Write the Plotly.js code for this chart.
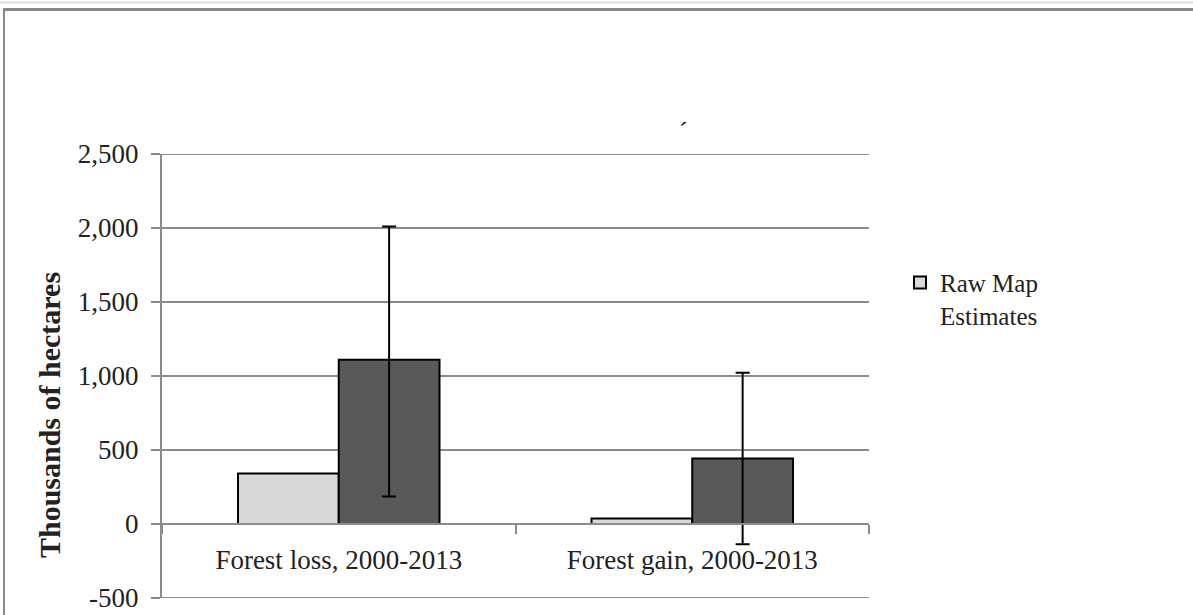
<!DOCTYPE html>
<html>
<head>
<meta charset="utf-8">
<script src="https://cdn.plot.ly/plotly-3.0.1.min.js"></script>
<style>
  html, body { margin: 0; padding: 0; background: #fff; }
  #chart { width: 1193px; height: 615px; }
</style>
</head>
<body>
<div id="chart"></div>
<script>
// Forest area change, thousands of hectares
const categories = ["Forest loss, 2000-2013", "Forest gain, 2000-2013"];
const rawMapEstimates = [342, 37];
const adjustedEstimates = [1110, 443];
const adjustedErrPlus = [900, 579];
const adjustedErrMinus = [925, 579];
const yTickValues = [-500, 0, 500, 1000, 1500, 2000, 2500];
const yTickLabels = ["-500", "0", "500", "1,000", "1,500", "2,000", "2,500"];
const yTitle = "Thousands of hectares";

const serif = "Liberation Serif, Times New Roman, serif";
const gridGray = "#8c8c8c";

const traces = [
  {
    type: "bar",
    name: "Raw Map<br>Estimates",
    x: categories,
    y: rawMapEstimates,
    marker: { color: "#d9d9d9", line: { color: "#000", width: 2 } },
    showlegend: true
  },
  {
    type: "bar",
    name: "Adjusted estimates",
    x: categories,
    y: adjustedEstimates,
    marker: { color: "#595959", line: { color: "#000", width: 2 } },
    error_y: {
      type: "data",
      symmetric: false,
      array: adjustedErrPlus,
      arrayminus: adjustedErrMinus,
      color: "#000",
      thickness: 2,
      width: 7
    },
    showlegend: false
  }
];

// helpers: pixel position -> paper fraction of the plot area
const plotL = 162, plotW = 707, plotB = 597.7, plotH = 443.4;
const px = v => (v - plotL) / plotW;
const py = v => (plotB - v) / plotH;

// outer gridlines at the range limits (Plotly skips gridlines on the plot edges)
const edgeGrid = [yTickValues[0], yTickValues[yTickValues.length - 1]].map(v => ({
  type: "line", xref: "paper", yref: "y",
  x0: 0, x1: 1, y0: v, y1: v,
  line: { color: gridGray, width: 2 }
}));

const layout = {
  width: 1193,
  height: 615,
  margin: { l: 162, r: 324, t: 154, b: 17, pad: 0 },
  paper_bgcolor: "#fff",
  plot_bgcolor: "#fff",
  barmode: "group",
  bargap: 0.43,
  bargroupgap: 0,
  font: { family: serif, color: "#222", size: 27 },
  xaxis: {
    type: "category",
    anchor: "free",
    position: 1 / 6,
    tickson: "boundaries",
    ticks: "outside",
    ticklen: 9,
    tickwidth: 2,
    tickcolor: gridGray,
    showline: true,
    linecolor: gridGray,
    linewidth: 2,
    showgrid: false,
    ticklabelstandoff: 12,
    tickfont: { family: serif, size: 27, color: "#222" },
    fixedrange: true
  },
  yaxis: {
    range: [-500, 2500],
    tickmode: "array",
    tickvals: yTickValues,
    ticktext: yTickLabels,
    ticks: "outside",
    ticklen: 9,
    tickwidth: 2,
    tickcolor: gridGray,
    showline: true,
    linecolor: gridGray,
    linewidth: 2,
    showgrid: true,
    gridcolor: gridGray,
    gridwidth: 2,
    zeroline: false,
    ticklabelstandoff: 7,
    tickfont: { family: serif, size: 27, color: "#222" },
    fixedrange: true
  },
  legend: {
    x: px(900),
    y: py(260),
    xanchor: "left",
    yanchor: "top",
    valign: "top",
    bgcolor: "rgba(0,0,0,0)",
    font: { family: serif, size: 25, color: "#222" },
    itemwidth: 30
  },
  annotations: [
    {
      // y-axis title, set lower than the plot centre
      xref: "paper", yref: "paper",
      x: px(49), y: py(415),
      xanchor: "center", yanchor: "middle",
      text: "<b>" + yTitle + "</b>",
      textangle: -90,
      showarrow: false,
      font: { family: serif, size: 30, color: "#222" }
    },
    {
      xref: "paper", yref: "paper",
      x: px(683), y: py(132),
      xanchor: "center", yanchor: "middle",
      text: "´",
      showarrow: false,
      font: { family: serif, size: 26, color: "#222" }
    }
  ],
  shapes: edgeGrid.concat([
    { type: "line", xref: "paper", yref: "paper",
      x0: px(0), x1: px(1193), y0: py(3), y1: py(3),
      line: { color: "#dcdcdc", width: 2 } },
    { type: "line", xref: "paper", yref: "paper",
      x0: px(3), x1: px(1193), y0: py(10), y1: py(10),
      line: { color: "#8a8a8a", width: 3 } },
    { type: "line", xref: "paper", yref: "paper",
      x0: px(4), x1: px(4), y0: py(10), y1: py(615),
      line: { color: "#8a8a8a", width: 2 } }
  ])
};

Plotly.newPlot("chart", traces, layout, { staticPlot: true, displayModeBar: false });
</script>
</body>
</html>
